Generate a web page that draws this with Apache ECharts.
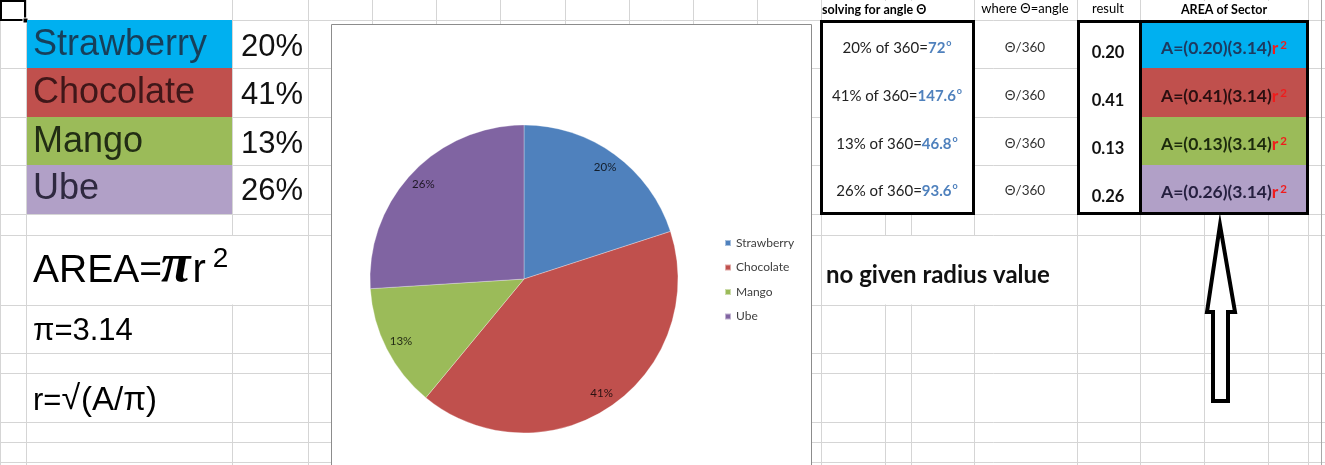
<!DOCTYPE html>
<html><head><meta charset="utf-8">
<script src="https://cdn.jsdelivr.net/npm/echarts@6/dist/echarts.min.js"></script>
<style>html,body{margin:0;padding:0;background:#fff}#c{width:1325px;height:465px}</style>
</head><body><div id="c"></div>
<script>
// ---- data ----
const categories = ['Strawberry', 'Chocolate', 'Mango', 'Ube'];
const percents = [20, 41, 13, 26];
const angleLabels = ['72', '147.6', '46.8', '93.6'];
const resultLabels = ['0.20', '0.41', '0.13', '0.26'];
const piValue = '3.14';

// ---- styles ----
const sliceColors = ['#4F81BD', '#C0504D', '#9BBB59', '#8064A2'];
const cellColors = ['#00B0F0', '#C0504D', '#9BBB59', '#B1A0C7'];
const catTextColors = ['#173f5a', '#3f1719', '#222d14', '#2f2940'];
const areaTextColors = ['#1d3a60', '#2b0f10', '#1c2a0c', '#262040'];
const SANS = '"Liberation Sans", Arial, sans-serif';
const SERIF = '"Liberation Serif", "Times New Roman", serif';
const CAL = 'Lato, "Open Sans", sans-serif';
const GRID = '#d5d5d5';

// ---- sheet layout ----
const colLines = [0, 26, 232, 308, 372, 436, 500, 565, 629, 693, 757, 821, 885, 911, 974, 1077, 1140, 1204, 1268, 1308];
const rowLines = [20, 68, 117, 165, 214, 235, 305, 353, 373, 422, 442, 462];
const rowTops = [20, 68, 117, 165, 214];

const ctx2d = document.createElement('canvas').getContext('2d');
function fontStr(f) { return (f.style || 'normal') + ' ' + (f.weight || 'normal') + ' ' + f.size + 'px ' + f.family; }
function measure(t, f) {
  ctx2d.font = fontStr(f); ctx2d.textBaseline = 'alphabetic';
  const m = ctx2d.measureText(t);
  return { w: m.width, mid: (m.fontBoundingBoxAscent - m.fontBoundingBoxDescent) / 2 };
}
const G = [];
function line(x1, y1, x2, y2, c, w) { G.push({ type: 'line', silent: true, shape: { x1, y1, x2, y2 }, style: { stroke: c || GRID, lineWidth: w || 1 } }); }
function rect(x, y, w, h, fill, stroke, lw) { G.push({ type: 'rect', silent: true, shape: { x, y, width: w, height: h }, style: { fill: fill || 'none', stroke: stroke || 'none', lineWidth: lw || 0 } }); }
function run(x, baseline, parts, align) {
  const ms = parts.map(p => measure(p.t, p.f));
  const widths = parts.map((p, i) => ms[i].w + (p.dx || 0));
  const total = widths.reduce((a, b) => a + b, 0);
  let cx = align === 'center' ? x - total / 2 : align === 'right' ? x - total : x;
  parts.forEach((p, i) => {
    G.push({ type: 'text', silent: true, style: {
      text: p.t, x: cx + (p.dx || 0), y: baseline + (p.dy || 0) - ms[i].mid,
      fill: p.fill || '#000', fontSize: p.f.size, fontFamily: p.f.family,
      fontWeight: p.f.weight || 'normal', fontStyle: p.f.style || 'normal',
      align: 'left', verticalAlign: 'middle' } });
    cx += widths[i];
  });
}

// grid lines
colLines.forEach(c => line(c + 0.5, 0, c + 0.5, 465));
rowLines.forEach(r => line(0, r + 0.5, 1325, r + 0.5));
// overflow masks
rect(822, 1, 150, 18.5, '#fff');
rect(1141, 1, 166, 18.5, '#fff');
rect(27, 236, 280, 68.5, '#fff');
rect(822, 236, 254, 68.5, '#fff');
// right window edge
line(1321.5, 0, 1321.5, 465, '#a8a8a8', 1);
// selected cell
rect(1, 1, 24, 19, 'none', '#000', 2);
rect(23, 18, 5, 5, '#000', '#fff', 1);

// left colour table
categories.forEach((cat, i) => {
  rect(27, rowTops[i], 205, rowTops[i + 1] - rowTops[i], cellColors[i]);
});
const leftBase = [58, 106, 155, 202];
categories.forEach((cat, i) => {
  run(33, leftBase[i], [{ t: cat, f: { size: 36, family: SANS }, fill: catTextColors[i] }], 'left');
  run(303, leftBase[i], [{ t: percents[i] + '%', f: { size: 31, family: SANS }, fill: '#111' }], 'right');
});

// formulas
run(33, 285, [
  { t: 'AREA=', f: { size: 39, family: SANS } },
  { t: 'π', f: { size: 54, family: SERIF, weight: 'bold', style: 'italic' }, dx: -1 },
  { t: 'r', f: { size: 40, family: SANS }, dx: 2 },
  { t: '2', f: { size: 28, family: SANS }, dy: -16, dx: 7 }
], 'left');
run(33, 342, [{ t: 'π=' + piValue, f: { size: 31, family: SANS } }], 'left');
run(33, 412, [
  { t: 'r=', f: { size: 31, family: SANS } },
  { t: '√', f: { size: 34, family: SANS } },
  { t: '(A/π)', f: { size: 33, family: SANS }, dx: 1 }
], 'left');

// chart frame
rect(331.5, 24.5, 480, 460, '#fff', '#8c8c8c', 1);

// right tables
rect(821.5, 21.5, 152, 192, '#fff', '#000', 3);
rect(1078.5, 21.5, 62, 192, '#fff', '#000', 3);
categories.forEach((cat, i) => {
  rect(1140, rowTops[i], 168, rowTops[i + 1] - rowTops[i], cellColors[i]);
});
rect(1140.5, 21.5, 167, 192, 'none', '#000', 3);

run(822, 14, [{ t: 'solving for angle Θ', f: { size: 12.5, family: CAL, weight: 'bold' } }], 'left');
run(1025, 14, [{ t: 'where Θ=angle', f: { size: 13, family: CAL } }], 'center');
run(1108, 14, [{ t: 'result', f: { size: 13, family: CAL } }], 'center');
run(1224, 14, [{ t: 'AREA of Sector', f: { size: 12.5, family: CAL, weight: 'bold' } }], 'center');

const solveBase = [54, 102, 150, 197];
const thetaBase = [53, 101, 149, 196];
const resBase = [59, 107, 155, 203];
const areaBase = [55, 103, 151, 199];
categories.forEach((cat, i) => {
  run(897, solveBase[i], [
    { t: percents[i] + '% of 360=', f: { size: 15, family: CAL }, fill: '#222' },
    { t: angleLabels[i], f: { size: 15, family: CAL, weight: 'bold' }, fill: '#4F81BD' },
    { t: 'o', f: { size: 9, family: CAL, weight: 'bold' }, fill: '#4F81BD', dy: -7, dx: 1 }
  ], 'center');
  run(1025, thetaBase[i], [{ t: 'Θ/360', f: { size: 13.5, family: CAL }, fill: '#333' }], 'center');
  run(1108, resBase[i], [{ t: resultLabels[i], f: { size: 16.5, family: CAL, weight: 'bold' }, fill: '#111' }], 'center');
  run(1224, areaBase[i], [
    { t: 'A=(' + resultLabels[i] + ')(' + piValue + ')', f: { size: 17.5, family: CAL, weight: 'bold' }, fill: areaTextColors[i] },
    { t: 'r', f: { size: 17.5, family: CAL, weight: 'bold' }, fill: '#f01c1c' },
    { t: '2', f: { size: 11.5, family: CAL, weight: 'bold' }, fill: '#f01c1c', dy: -5, dx: 2 }
  ], 'center');
});

run(826, 285, [{ t: 'no given radius value', f: { size: 24, family: CAL, weight: 'bold' }, fill: '#111' }], 'left');

// arrow
G.push({ type: 'polygon', silent: true, shape: { points: [[1220, 225], [1207, 312], [1213, 312], [1213, 401], [1228, 401], [1228, 312], [1235, 312]] },
  style: { fill: '#fff', stroke: '#000', lineWidth: 4, lineJoin: 'miter' } });

const pieData = categories.map((c, i) => ({ name: c, value: percents[i], itemStyle: { color: sliceColors[i] } }));

const chart = echarts.init(document.getElementById('c'), null, { renderer: 'canvas' });
chart.setOption({
  animation: false,
  backgroundColor: '#fff',
  graphic: { elements: G },
  legend: {
    data: categories, orient: 'vertical', left: 724, top: 237, padding: 0,
    itemWidth: 6, itemHeight: 6, itemGap: 12.5, icon: 'rect', selectedMode: false,
    textStyle: { fontFamily: CAL, fontSize: 12, color: '#404040', lineHeight: 12 }
  },
  series: [
    {
      type: 'pie', center: [524, 279], radius: 154, startAngle: 90, clockwise: true,
      silent: true, label: { show: false }, labelLine: { show: false },
      itemStyle: { borderColor: 'rgba(255,255,255,0.5)', borderWidth: 0.6 },
      data: pieData
    },
    {
      type: 'pie', center: [524, 279], radius: [116, 154], startAngle: 90, clockwise: true,
      silent: true, legendHoverLink: false,
      itemStyle: { color: 'rgba(0,0,0,0)' },
      label: { show: true, position: 'inside', formatter: p => p.value + '%', fontFamily: CAL, fontSize: 11.5, color: 'rgba(0,0,0,0.78)' },
      labelLine: { show: false },
      data: categories.map((c, i) => ({ name: c, value: percents[i] }))
    }
  ]
});
</script></body></html>
